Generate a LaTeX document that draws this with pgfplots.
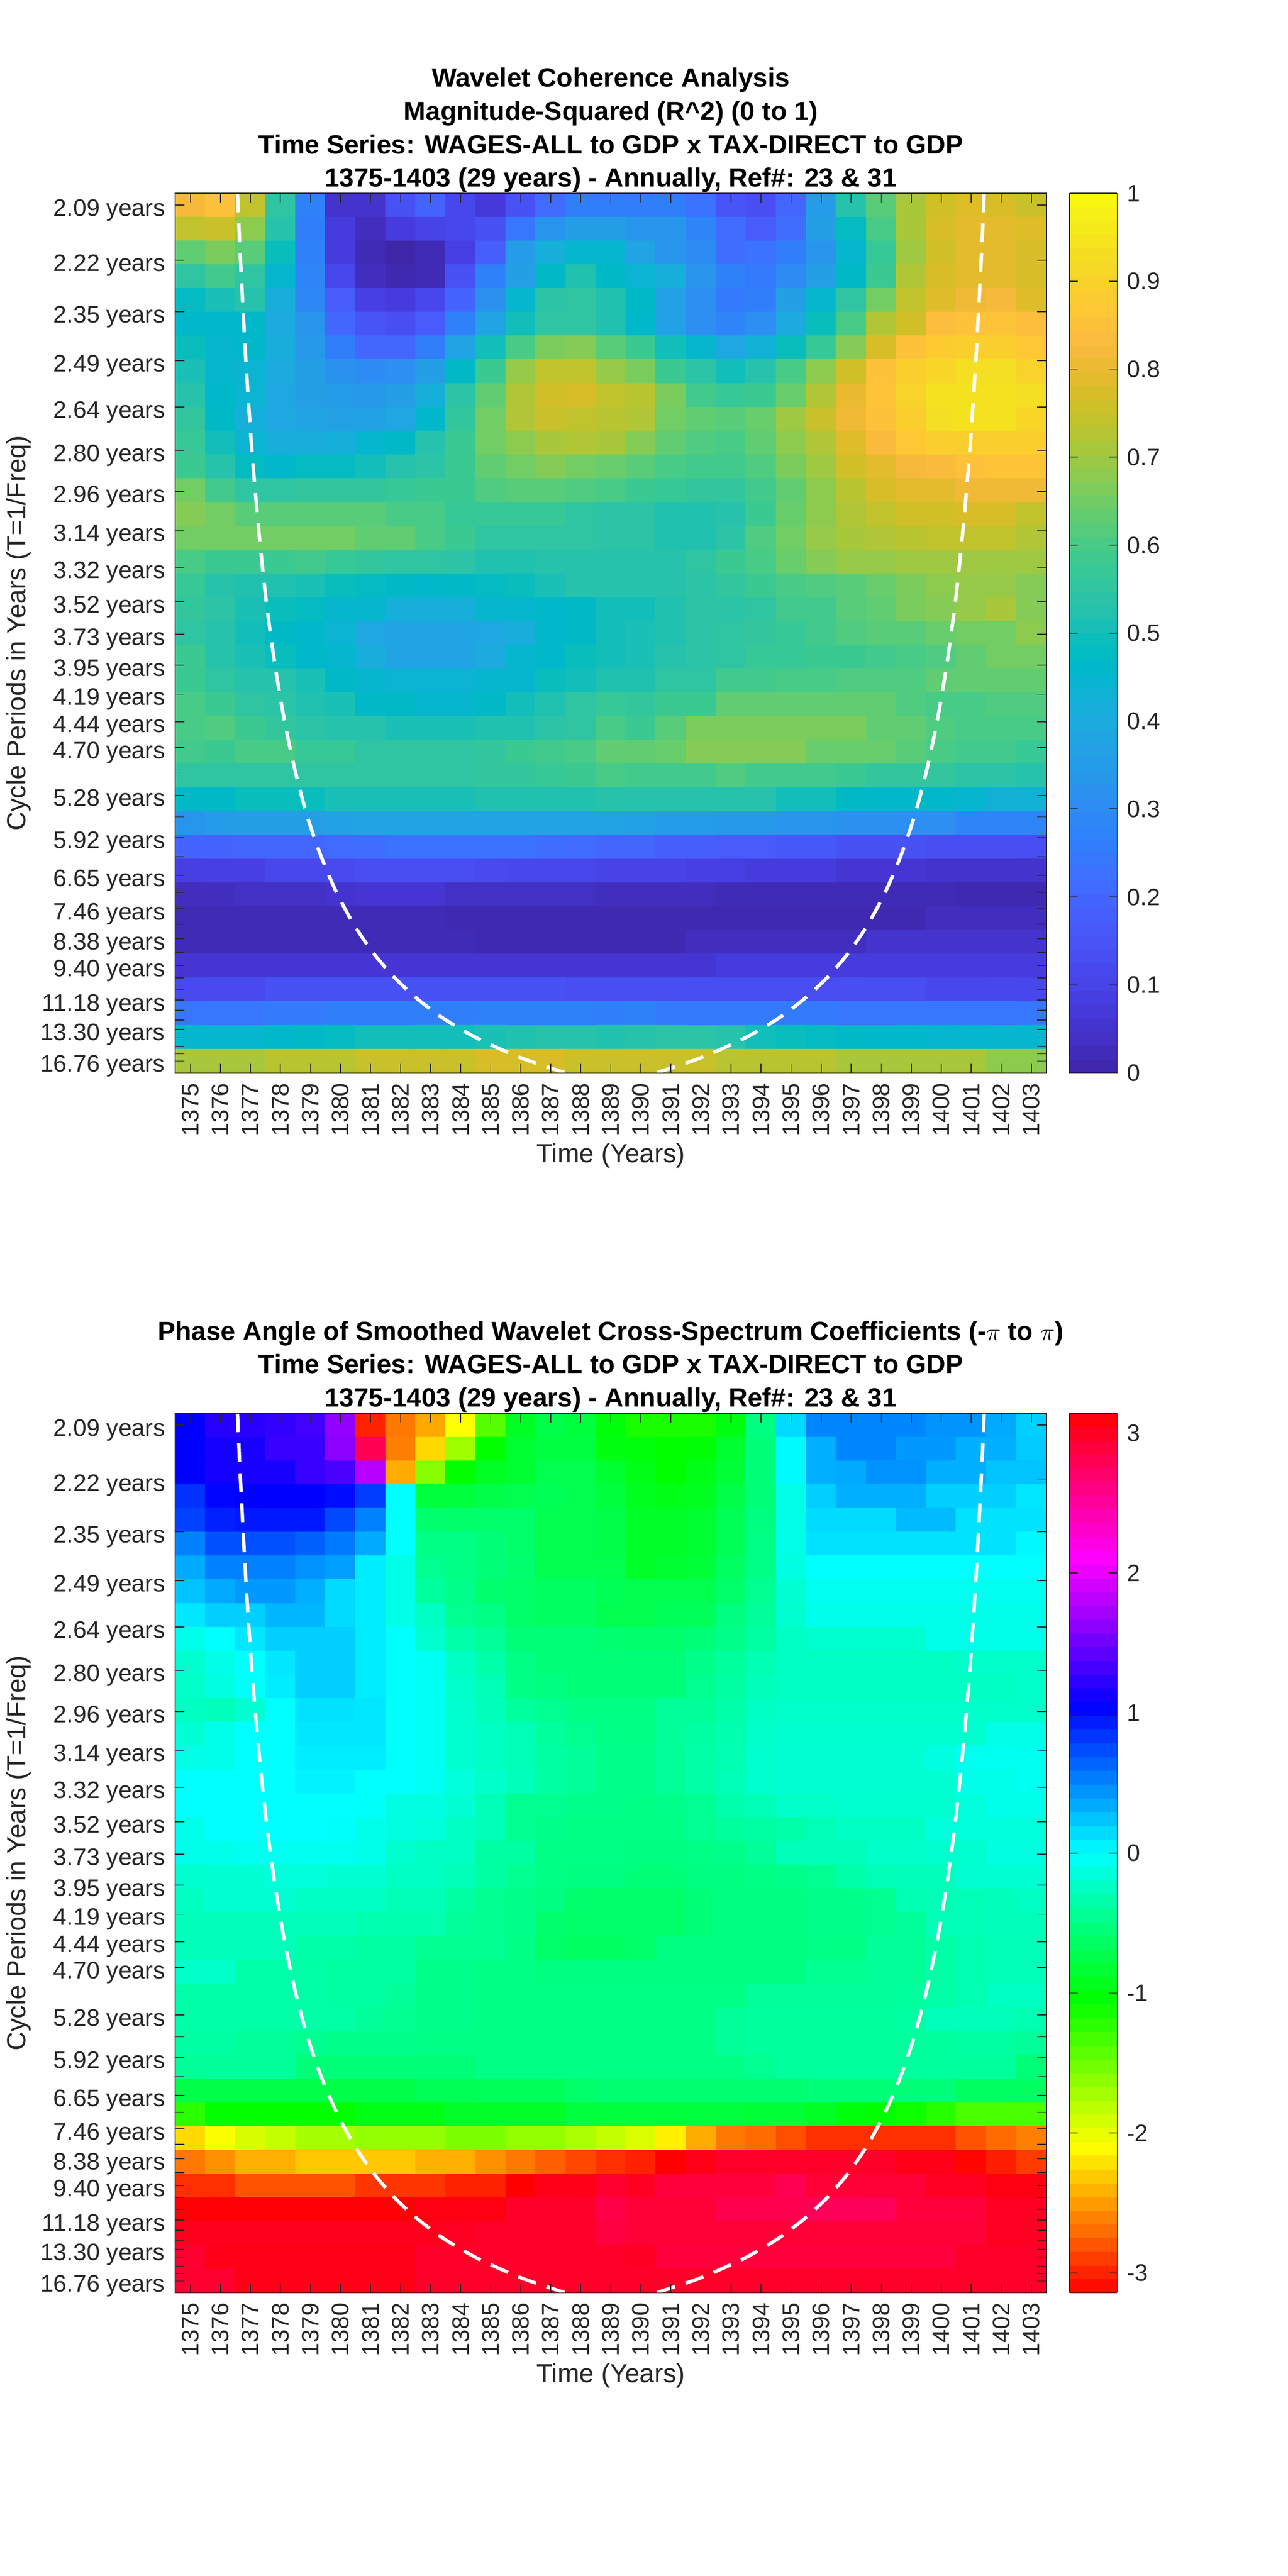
\documentclass[border=0pt]{standalone}
\usepackage{fontspec}
\setmainfont{Liberation Sans}
\usepackage{pgfplots}
\pgfplotsset{compat=1.18}
\definecolor{axc}{RGB}{38,38,38}
\newcommand{\tickfont}{\fontsize{13.9}{15}\selectfont}
\newcommand{\labfont}{\fontsize{15.3}{17}\selectfont}
\newcommand{\titfont}{\fontsize{15.36}{19.44}\selectfont\bfseries}
\pgfplotsset{
  wave/.style={
    scale only axis, width=507.4pt, height=512.4pt, anchor=south west,
    axis on top, enlargelimits=false,
    xmin=1374.5, xmax=1403.5, ymin=0.05387, ymax=0.48313,
    xtick={1375,1376,1377,1378,1379,1380,1381,1382,1383,1384,1385,1386,1387,1388,1389,1390,1391,1392,1393,1394,1395,1396,1397,1398,1399,1400,1401,1402,1403},
    xticklabels={1375,1376,1377,1378,1379,1380,1381,1382,1383,1384,1385,1386,1387,1388,1389,1390,1391,1392,1393,1394,1395,1396,1397,1398,1399,1400,1401,1402,1403},
    ytick={0.47733,0.45054,0.42526,0.40139,0.37886,0.35760,0.33753,0.31858,0.30070,0.28382,0.26789,0.25286,0.23866,0.22527,0.21263,0.20070,0.18943,0.17880,0.16876,0.15929,0.15035,0.14191,0.13395,0.12643,0.11933,0.11263,0.10631,0.10035,0.09472,0.08940,0.08438,0.07965,0.07518,0.07096,0.06697,0.06321,0.05967},
    yticklabels={2.09 years,2.22 years,2.35 years,2.49 years,2.64 years,2.80 years,2.96 years,3.14 years,3.32 years,3.52 years,3.73 years,3.95 years,4.19 years,4.44 years,4.70 years,,5.28 years,,5.92 years,,6.65 years,,7.46 years,,8.38 years,,9.40 years,,,11.18 years,,,13.30 years,,,,16.76 years},
    tick align=inside, major tick length=5.3pt, minor tick num=0,
    tick style={color=axc,line width=0.5pt},
    axis line style={color=axc,line width=0.5pt},
    tick label style={font=\tickfont,text=axc},
    xticklabel style={rotate=90,anchor=east,inner sep=0pt,xshift=-5.7pt},
    yticklabel style={anchor=east,inner sep=0pt,xshift=-5.8pt,yshift=-3pt},
    xlabel={Time (Years)}, ylabel={Cycle Periods in Years (T=1/Freq)},
    xlabel style={font=\labfont,text=axc,at={(axis description cs:0.5,-0.0942)},anchor=center},
    ylabel style={font=\labfont,text=axc,at={(axis description cs:-0.1795,0.5)},anchor=center},
    title style={font=\titfont,align=center,at={(axis description cs:0.5,1)},anchor=south,inner sep=0pt,yshift=-5.7pt},
    colorbar sampled,
  },
  cbar/.style={
    at={(1.0265,1)}, anchor=north west, width=27.8pt,
    samples=65, tick align=inside, major tick length=4.8pt,
    tick style={color=axc,line width=0.5pt},
    axis line style={color=axc,line width=0.5pt},
    yticklabel style={font=\tickfont,text=axc,anchor=west,inner sep=0pt,xshift=5.5pt},
    ylabel={}, xlabel={},
  },
  coi/.style={white,line width=2pt,dash pattern=on 11pt off 6.5pt,smooth,no marks},
}
\begin{document}
\begin{tikzpicture}
\useasboundingbox (0,0) rectangle (750pt,1500.48pt);
\begin{axis}[wave, at={(102.1pt,875.5pt)},
  title={Wavelet Coherence Analysis\\Magnitude-Squared (R\textasciicircum 2) (0 to 1)\\Time Series: WAGES-ALL to GDP x TAX-DIRECT to GDP\\1375-1403 (29 years) - Annually, Ref\#: 23 \& 31},
  colormap={parula}{rgb=(.2422,.1504,.6603) rgb=(.2504,.1650,.7076) rgb=(.2578,.1818,.7511) rgb=(.2647,.1978,.7952) rgb=(.2706,.2147,.8364) rgb=(.2751,.2342,.8710) rgb=(.2783,.2559,.8991) rgb=(.2803,.2782,.9221) rgb=(.2813,.3006,.9414) rgb=(.2810,.3228,.9579) rgb=(.2795,.3447,.9717) rgb=(.2760,.3667,.9829) rgb=(.2699,.3892,.9906) rgb=(.2602,.4123,.9952) rgb=(.2440,.4358,.9988) rgb=(.2206,.4603,.9973) rgb=(.1963,.4847,.9892) rgb=(.1834,.5074,.9798) rgb=(.1786,.5289,.9682) rgb=(.1764,.5499,.9520) rgb=(.1687,.5703,.9359) rgb=(.1540,.5902,.9218) rgb=(.1460,.6091,.9079) rgb=(.1380,.6276,.8973) rgb=(.1248,.6459,.8883) rgb=(.1113,.6635,.8763) rgb=(.0952,.6798,.8598) rgb=(.0689,.6948,.8394) rgb=(.0297,.7082,.8163) rgb=(.0036,.7203,.7917) rgb=(.0067,.7312,.7660) rgb=(.0433,.7411,.7394) rgb=(.0964,.7500,.7120) rgb=(.1408,.7584,.6842) rgb=(.1717,.7670,.6554) rgb=(.1938,.7758,.6251) rgb=(.2161,.7843,.5923) rgb=(.2470,.7918,.5567) rgb=(.2906,.7973,.5188) rgb=(.3406,.8008,.4789) rgb=(.3909,.8029,.4354) rgb=(.4456,.8024,.3909) rgb=(.5044,.7993,.3480) rgb=(.5616,.7942,.3045) rgb=(.6174,.7876,.2612) rgb=(.6720,.7793,.2227) rgb=(.7242,.7698,.1910) rgb=(.7738,.7598,.1646) rgb=(.8203,.7498,.1535) rgb=(.8634,.7406,.1596) rgb=(.9035,.7330,.1774) rgb=(.9393,.7288,.2100) rgb=(.9728,.7298,.2394) rgb=(.9956,.7434,.2371) rgb=(.9970,.7659,.2199) rgb=(.9952,.7861,.1991) rgb=(.9799,.8112,.1774) rgb=(.9691,.8328,.1633) rgb=(.9628,.8579,.1450) rgb=(.9593,.8830,.1261) rgb=(.9599,.9058,.1119) rgb=(.9641,.9286,.0950) rgb=(.9695,.9555,.0750) rgb=(.9763,.9831,.0538)},
  point meta min=0, point meta max=1,
  colorbar style={cbar, ymin=0, ymax=1, ytick={0,0.1,0.2,0.3,0.4,0.5,0.6,0.7,0.8,0.9,1}, yticklabels={0,0.1,0.2,0.3,0.4,0.5,0.6,0.7,0.8,0.9,1}},
]
\addplot[matrix plot*, mesh/cols=29, point meta=explicit]
  table[row sep=\\, header=false, x expr={1375+mod(\coordindex,29)}, y expr={0.47733-0.011602*floor((\coordindex+0.5)/29)}, meta index=0] {
.82\\.85\\.74\\.55\\.27\\.05\\.05\\.14\\.19\\.11\\.07\\.14\\.21\\.26\\.26\\.26\\.26\\.23\\.15\\.13\\.20\\.35\\.53\\.62\\.71\\.76\\.78\\.77\\.75\\
.74\\.75\\.68\\.53\\.26\\.08\\.03\\.08\\.10\\.11\\.14\\.24\\.33\\.36\\.36\\.33\\.33\\.28\\.21\\.17\\.22\\.36\\.48\\.60\\.71\\.77\\.79\\.79\\.78\\
.63\\.66\\.62\\.49\\.27\\.08\\.02\\.00\\.02\\.09\\.18\\.35\\.42\\.45\\.45\\.38\\.33\\.30\\.22\\.23\\.26\\.33\\.45\\.57\\.70\\.76\\.79\\.79\\.77\\
.55\\.59\\.55\\.45\\.28\\.11\\.03\\.01\\.02\\.14\\.27\\.36\\.47\\.52\\.47\\.44\\.42\\.33\\.27\\.25\\.30\\.36\\.47\\.58\\.72\\.77\\.79\\.79\\.77\\
.48\\.51\\.53\\.41\\.29\\.17\\.09\\.08\\.11\\.19\\.32\\.45\\.54\\.55\\.52\\.47\\.37\\.31\\.25\\.26\\.36\\.45\\.55\\.65\\.74\\.78\\.81\\.82\\.78\\
.46\\.46\\.46\\.40\\.33\\.20\\.15\\.13\\.17\\.27\\.38\\.50\\.55\\.55\\.52\\.46\\.37\\.31\\.28\\.31\\.40\\.49\\.60\\.72\\.76\\.84\\.85\\.86\\.84\\
.49\\.45\\.46\\.41\\.34\\.26\\.20\\.20\\.26\\.38\\.50\\.60\\.66\\.67\\.62\\.58\\.50\\.45\\.39\\.43\\.49\\.57\\.67\\.77\\.85\\.88\\.89\\.89\\.87\\
.51\\.45\\.44\\.40\\.36\\.32\\.30\\.31\\.36\\.47\\.58\\.69\\.74\\.74\\.69\\.66\\.58\\.54\\.50\\.53\\.60\\.68\\.76\\.85\\.89\\.91\\.93\\.93\\.90\\
.53\\.46\\.44\\.39\\.36\\.35\\.34\\.36\\.42\\.54\\.63\\.72\\.76\\.77\\.74\\.73\\.66\\.59\\.57\\.58\\.64\\.72\\.80\\.86\\.90\\.94\\.94\\.94\\.93\\
.56\\.47\\.42\\.39\\.38\\.37\\.37\\.39\\.46\\.56\\.65\\.72\\.75\\.74\\.73\\.72\\.65\\.63\\.62\\.64\\.70\\.75\\.81\\.85\\.89\\.93\\.94\\.94\\.91\\
.57\\.50\\.44\\.41\\.41\\.42\\.45\\.47\\.53\\.58\\.65\\.68\\.71\\.72\\.71\\.67\\.63\\.61\\.60\\.63\\.68\\.72\\.78\\.83\\.87\\.89\\.89\\.89\\.89\\
.58\\.53\\.48\\.46\\.48\\.48\\.50\\.53\\.54\\.58\\.63\\.65\\.67\\.65\\.64\\.62\\.60\\.59\\.59\\.61\\.66\\.70\\.76\\.79\\.82\\.83\\.85\\.86\\.86\\
.65\\.59\\.55\\.55\\.56\\.56\\.56\\.57\\.58\\.58\\.61\\.62\\.62\\.61\\.60\\.58\\.57\\.56\\.56\\.59\\.63\\.68\\.73\\.77\\.79\\.79\\.81\\.81\\.81\\
.67\\.65\\.62\\.62\\.62\\.62\\.62\\.60\\.60\\.57\\.57\\.57\\.57\\.55\\.54\\.54\\.52\\.52\\.53\\.58\\.64\\.68\\.72\\.74\\.76\\.76\\.77\\.77\\.74\\
.65\\.65\\.65\\.65\\.65\\.65\\.63\\.63\\.60\\.58\\.55\\.55\\.55\\.55\\.54\\.54\\.52\\.52\\.54\\.61\\.65\\.69\\.71\\.72\\.73\\.74\\.74\\.74\\.72\\
.60\\.58\\.58\\.58\\.59\\.57\\.56\\.55\\.55\\.54\\.52\\.52\\.53\\.53\\.53\\.53\\.53\\.55\\.58\\.60\\.64\\.67\\.69\\.69\\.70\\.70\\.70\\.70\\.70\\
.57\\.53\\.52\\.52\\.51\\.49\\.48\\.47\\.46\\.47\\.48\\.49\\.51\\.53\\.53\\.53\\.53\\.54\\.56\\.58\\.60\\.61\\.62\\.64\\.66\\.68\\.69\\.69\\.67\\
.56\\.54\\.51\\.49\\.48\\.45\\.45\\.42\\.42\\.42\\.45\\.45\\.46\\.47\\.50\\.50\\.52\\.54\\.54\\.55\\.59\\.59\\.62\\.63\\.66\\.67\\.69\\.71\\.67\\
.55\\.53\\.50\\.47\\.46\\.44\\.39\\.38\\.38\\.38\\.39\\.41\\.46\\.47\\.50\\.51\\.52\\.54\\.55\\.56\\.57\\.59\\.61\\.62\\.62\\.64\\.65\\.65\\.68\\
.58\\.53\\.51\\.49\\.46\\.45\\.41\\.38\\.38\\.38\\.40\\.45\\.46\\.49\\.50\\.51\\.53\\.54\\.55\\.57\\.57\\.58\\.58\\.59\\.60\\.61\\.63\\.65\\.65\\
.58\\.55\\.53\\.53\\.51\\.47\\.45\\.44\\.44\\.44\\.45\\.45\\.49\\.50\\.52\\.52\\.55\\.55\\.59\\.59\\.60\\.60\\.61\\.61\\.61\\.63\\.63\\.63\\.63\\
.60\\.58\\.55\\.54\\.52\\.51\\.47\\.47\\.45\\.45\\.47\\.50\\.52\\.55\\.57\\.56\\.58\\.58\\.63\\.63\\.63\\.63\\.63\\.63\\.61\\.60\\.60\\.61\\.61\\
.60\\.61\\.58\\.56\\.54\\.53\\.53\\.51\\.51\\.51\\.52\\.52\\.54\\.55\\.60\\.58\\.62\\.66\\.66\\.66\\.66\\.66\\.66\\.63\\.63\\.61\\.60\\.60\\.60\\
.59\\.58\\.60\\.60\\.57\\.57\\.55\\.55\\.55\\.55\\.56\\.58\\.59\\.60\\.63\\.63\\.64\\.67\\.67\\.67\\.67\\.64\\.64\\.64\\.62\\.60\\.59\\.59\\.57\\
.55\\.55\\.55\\.55\\.55\\.55\\.55\\.55\\.55\\.55\\.56\\.56\\.57\\.58\\.60\\.59\\.59\\.59\\.61\\.59\\.59\\.59\\.58\\.56\\.56\\.56\\.54\\.54\\.53\\
.47\\.47\\.49\\.49\\.49\\.51\\.51\\.51\\.51\\.51\\.52\\.52\\.52\\.52\\.53\\.53\\.53\\.53\\.53\\.53\\.50\\.50\\.47\\.46\\.46\\.46\\.45\\.43\\.43\\
.33\\.35\\.36\\.36\\.36\\.37\\.38\\.38\\.38\\.38\\.38\\.38\\.38\\.38\\.38\\.37\\.35\\.35\\.34\\.34\\.33\\.33\\.32\\.32\\.31\\.31\\.28\\.28\\.28\\
.19\\.19\\.20\\.20\\.20\\.21\\.22\\.23\\.23\\.23\\.23\\.23\\.22\\.21\\.20\\.20\\.18\\.18\\.17\\.17\\.16\\.16\\.14\\.14\\.14\\.13\\.13\\.13\\.13\\
.09\\.09\\.09\\.11\\.11\\.12\\.13\\.13\\.13\\.13\\.12\\.11\\.11\\.11\\.10\\.10\\.10\\.09\\.09\\.08\\.08\\.08\\.06\\.06\\.06\\.05\\.05\\.05\\.05\\
.03\\.03\\.04\\.04\\.04\\.05\\.06\\.06\\.06\\.04\\.04\\.04\\.04\\.04\\.03\\.03\\.03\\.03\\.02\\.02\\.02\\.02\\.02\\.02\\.02\\.02\\.01\\.01\\.01\\
.02\\.02\\.02\\.02\\.02\\.02\\.02\\.02\\.02\\.01\\.01\\.01\\.01\\.01\\.01\\.01\\.01\\.01\\.01\\.01\\.01\\.01\\.01\\.01\\.01\\.03\\.03\\.03\\.03\\
.02\\.02\\.02\\.02\\.02\\.02\\.02\\.02\\.02\\.02\\.01\\.01\\.01\\.01\\.01\\.01\\.01\\.03\\.03\\.03\\.03\\.03\\.03\\.05\\.05\\.05\\.05\\.05\\.05\\
.06\\.06\\.06\\.06\\.06\\.06\\.06\\.06\\.06\\.06\\.06\\.06\\.06\\.06\\.06\\.06\\.06\\.06\\.08\\.08\\.08\\.08\\.08\\.08\\.08\\.08\\.08\\.08\\.08\\
.12\\.12\\.12\\.14\\.14\\.14\\.14\\.14\\.14\\.14\\.14\\.14\\.14\\.13\\.13\\.13\\.13\\.13\\.13\\.13\\.13\\.13\\.13\\.13\\.13\\.11\\.11\\.11\\.11\\
.24\\.24\\.24\\.25\\.25\\.26\\.26\\.26\\.26\\.26\\.27\\.27\\.27\\.27\\.26\\.27\\.25\\.25\\.25\\.25\\.25\\.25\\.24\\.24\\.24\\.24\\.24\\.24\\.24\\
.45\\.45\\.45\\.46\\.47\\.48\\.50\\.50\\.50\\.50\\.51\\.52\\.53\\.53\\.52\\.53\\.54\\.54\\.53\\.50\\.49\\.48\\.47\\.46\\.46\\.45\\.45\\.45\\.45\\
.71\\.71\\.71\\.73\\.73\\.73\\.75\\.75\\.75\\.75\\.77\\.77\\.77\\.75\\.75\\.75\\.75\\.75\\.73\\.73\\.73\\.73\\.71\\.71\\.71\\.71\\.71\\.68\\.68\\
};
\addplot[coi] coordinates {(1376.57,0.4831)(1376.67,0.45054)(1376.85,0.40139)(1377.05,0.35760)(1377.28,0.31858)(1377.53,0.28382)(1377.82,0.25286)(1378.14,0.22527)(1378.50,0.20070)(1378.90,0.17880)(1379.36,0.15929)(1379.87,0.14191)(1380.44,0.12643)(1381.08,0.11263)(1381.80,0.10035)(1382.61,0.08940)(1383.51,0.07965)(1384.53,0.07096)(1385.68,0.06321)(1386.30,0.05967)(1387.49,0.05387)};
\addplot[coi] coordinates {(1401.43,0.4831)(1401.33,0.45054)(1401.15,0.40139)(1400.95,0.35760)(1400.72,0.31858)(1400.47,0.28382)(1400.18,0.25286)(1399.86,0.22527)(1399.50,0.20070)(1399.10,0.17880)(1398.64,0.15929)(1398.13,0.14191)(1397.56,0.12643)(1396.92,0.11263)(1396.20,0.10035)(1395.39,0.08940)(1394.49,0.07965)(1393.47,0.07096)(1392.32,0.06321)(1391.70,0.05967)(1390.51,0.05387)};
\end{axis}
\begin{axis}[wave, at={(102.1pt,164.9pt)},
  title={Phase Angle of Smoothed Wavelet Cross-Spectrum Coefficients (-$\pi$ to $\pi$)\\Time Series: WAGES-ALL to GDP x TAX-DIRECT to GDP\\1375-1403 (29 years) - Annually, Ref\#: 23 \& 31},
  colormap={hsvm}{rgb=(1,0,0) rgb=(1,1,0) rgb=(0,1,0) rgb=(0,1,1) rgb=(0,0,1) rgb=(1,0,1) rgb=(1,0,0)},
  point meta min=-3.14159, point meta max=3.14159,
  colorbar style={cbar, ymin=-3.14159, ymax=3.14159, ytick={-3,-2,-1,0,1,2,3}, yticklabels={-3,-2,-1,0,1,2,3}},
]
\addplot[matrix plot*, mesh/cols=29, point meta=explicit]
  table[row sep=\\, header=false, x expr={1375+mod(\coordindex,29)}, y expr={0.47733-0.011602*floor((\coordindex+0.5)/29)}, meta index=0] {
1.05\\1.2\\1.22\\1.25\\1.32\\1.65\\-3.0\\-2.65\\-2.45\\-2.09\\-1.4\\-.9\\-.75\\-.8\\-1.0\\-1.15\\-1.15\\-1.15\\-.98\\-.52\\.15\\.5\\.5\\.5\\.5\\.44\\.44\\.35\\.2\\
1.05\\1.13\\1.15\\1.28\\1.28\\1.62\\2.8\\-2.62\\-2.25\\-1.7\\-1.05\\-.85\\-.78\\-.78\\-.98\\-1.0\\-1.05\\-1.02\\-.85\\-.55\\.02\\.33\\.5\\.5\\.42\\.42\\.33\\.33\\.22\\
1.05\\1.13\\1.15\\1.15\\1.28\\1.35\\1.8\\-2.44\\-1.6\\-1.05\\-.9\\-.85\\-.72\\-.72\\-.85\\-.95\\-1.05\\-.95\\-.82\\-.55\\.02\\.33\\.35\\.45\\.45\\.33\\.33\\.25\\.25\\
.85\\1.03\\1.05\\1.05\\1.05\\1.0\\.8\\0\\-.8\\-.8\\-.75\\-.72\\-.7\\-.72\\-.8\\-.92\\-.95\\-.92\\-.75\\-.55\\-.1\\.2\\.33\\.33\\.33\\.2\\.2\\.2\\.1\\
.78\\.92\\.95\\.95\\.95\\.75\\.52\\0\\-.6\\-.62\\-.62\\-.62\\-.72\\-.72\\-.75\\-.88\\-.88\\-.85\\-.7\\-.52\\-.1\\.15\\.15\\.15\\.28\\.28\\.12\\.12\\.12\\
.52\\.72\\.72\\.72\\.65\\.55\\.35\\0\\-.5\\-.5\\-.55\\-.62\\-.72\\-.72\\-.75\\-.88\\-.88\\-.85\\-.7\\-.5\\-.1\\.12\\.12\\.12\\.12\\.12\\.12\\.12\\.03\\
.35\\.52\\.52\\.52\\.45\\.4\\.08\\-.1\\-.45\\-.5\\-.55\\-.6\\-.72\\-.72\\-.72\\-.88\\-.85\\-.82\\-.65\\-.5\\-.12\\0\\0\\0\\0\\0\\0\\0\\0\\
.25\\.35\\.42\\.42\\.33\\.15\\.08\\-.1\\-.4\\-.48\\-.6\\-.62\\-.65\\-.65\\-.7\\-.72\\-.72\\-.72\\-.62\\-.45\\-.18\\-.06\\-.06\\-.06\\-.06\\-.06\\-.06\\-.06\\-.06\\
.1\\.2\\.2\\.3\\.3\\.15\\.08\\-.1\\-.25\\-.45\\-.5\\-.62\\-.65\\-.65\\-.72\\-.72\\-.68\\-.68\\-.52\\-.42\\-.2\\-.08\\-.08\\-.08\\-.08\\-.08\\-.08\\-.08\\-.08\\
-.08\\0\\.1\\.2\\.2\\.2\\.08\\0\\-.2\\-.35\\-.42\\-.55\\-.55\\-.55\\-.58\\-.6\\-.6\\-.55\\-.48\\-.38\\-.25\\-.2\\-.2\\-.2\\-.2\\-.08\\-.08\\-.08\\-.08\\
-.2\\-.1\\0\\.1\\.2\\.2\\.08\\0\\-.05\\-.25\\-.35\\-.5\\-.55\\-.55\\-.55\\-.55\\-.55\\-.48\\-.4\\-.32\\-.25\\-.25\\-.25\\-.25\\-.25\\-.25\\-.22\\-.22\\-.22\\
-.22\\-.12\\-.02\\.08\\.2\\.2\\.08\\0\\-.05\\-.22\\-.3\\-.5\\-.52\\-.55\\-.55\\-.55\\-.55\\-.45\\-.38\\-.28\\-.25\\-.25\\-.25\\-.25\\-.25\\-.25\\-.25\\-.25\\-.22\\
-.25\\-.28\\-.18\\0\\.12\\.12\\.1\\0\\-.05\\-.2\\-.28\\-.4\\-.45\\-.5\\-.5\\-.5\\-.42\\-.42\\-.35\\-.25\\-.22\\-.22\\-.22\\-.22\\-.22\\-.22\\-.22\\-.22\\-.22\\
-.18\\-.08\\0\\0\\.1\\.1\\.1\\0\\-.05\\-.2\\-.25\\-.3\\-.4\\-.45\\-.5\\-.5\\-.42\\-.38\\-.33\\-.22\\-.2\\-.2\\-.2\\-.2\\-.2\\-.2\\-.2\\-.1\\-.1\\
-.1\\-.08\\0\\0\\.08\\.08\\.08\\0\\-.05\\-.2\\-.25\\-.3\\-.38\\-.42\\-.48\\-.48\\-.42\\-.36\\-.32\\-.2\\-.18\\-.18\\-.18\\-.18\\-.18\\-.12\\-.06\\-.06\\-.06\\
0\\0\\0\\0\\.05\\.05\\0\\0\\-.05\\-.15\\-.22\\-.28\\-.38\\-.42\\-.48\\-.48\\-.42\\-.36\\-.3\\-.2\\-.18\\-.18\\-.18\\-.18\\-.18\\-.18\\-.08\\-.08\\-.06\\
0\\0\\0\\0\\0\\0\\-.02\\-.12\\-.12\\-.18\\-.3\\-.45\\-.45\\-.48\\-.48\\-.5\\-.48\\-.44\\-.34\\-.3\\-.22\\-.22\\-.2\\-.2\\-.2\\-.2\\-.15\\-.08\\-.08\\
-.08\\0\\0\\0\\0\\-.02\\-.08\\-.12\\-.15\\-.25\\-.3\\-.45\\-.48\\-.5\\-.5\\-.5\\-.5\\-.44\\-.4\\-.38\\-.35\\-.3\\-.25\\-.25\\-.25\\-.15\\-.15\\-.15\\-.15\\
-.08\\-.08\\-.06\\-.06\\-.06\\-.06\\-.08\\-.2\\-.25\\-.25\\-.38\\-.38\\-.5\\-.5\\-.5\\-.52\\-.52\\-.5\\-.48\\-.42\\-.28\\-.28\\-.28\\-.22\\-.22\\-.2\\-.2\\-.12\\-.12\\
-.2\\-.18\\-.18\\-.15\\-.15\\-.18\\-.18\\-.25\\-.25\\-.3\\-.38\\-.45\\-.5\\-.52\\-.52\\-.55\\-.55\\-.52\\-.52\\-.5\\-.48\\-.45\\-.35\\-.3\\-.28\\-.28\\-.18\\-.18\\-.18\\
-.25\\-.18\\-.18\\-.18\\-.25\\-.25\\-.25\\-.3\\-.3\\-.38\\-.45\\-.48\\-.52\\-.6\\-.62\\-.62\\-.62\\-.55\\-.52\\-.52\\-.52\\-.48\\-.48\\-.45\\-.32\\-.3\\-.3\\-.28\\-.25\\
-.28\\-.28\\-.28\\-.28\\-.28\\-.28\\-.33\\-.33\\-.33\\-.42\\-.45\\-.48\\-.6\\-.62\\-.62\\-.62\\-.62\\-.55\\-.52\\-.52\\-.52\\-.48\\-.48\\-.45\\-.42\\-.3\\-.3\\-.28\\-.28\\
-.28\\-.28\\-.28\\-.28\\-.35\\-.35\\-.38\\-.38\\-.45\\-.45\\-.45\\-.5\\-.62\\-.65\\-.65\\-.62\\-.52\\-.52\\-.52\\-.52\\-.52\\-.5\\-.5\\-.42\\-.42\\-.36\\-.32\\-.3\\-.3\\
-.22\\-.22\\-.35\\-.35\\-.36\\-.38\\-.38\\-.38\\-.48\\-.48\\-.5\\-.5\\-.52\\-.52\\-.52\\-.52\\-.52\\-.52\\-.52\\-.52\\-.52\\-.45\\-.45\\-.42\\-.42\\-.36\\-.32\\-.3\\-.3\\
-.35\\-.35\\-.35\\-.35\\-.36\\-.38\\-.38\\-.42\\-.48\\-.48\\-.5\\-.5\\-.5\\-.5\\-.5\\-.5\\-.5\\-.5\\-.5\\-.42\\-.42\\-.42\\-.42\\-.42\\-.4\\-.36\\-.32\\-.25\\-.25\\
-.35\\-.35\\-.35\\-.35\\-.36\\-.36\\-.42\\-.45\\-.48\\-.48\\-.5\\-.5\\-.5\\-.5\\-.5\\-.5\\-.5\\-.5\\-.42\\-.4\\-.4\\-.4\\-.4\\-.4\\-.38\\-.28\\-.28\\-.28\\-.32\\
-.38\\-.38\\-.42\\-.42\\-.45\\-.48\\-.48\\-.48\\-.5\\-.5\\-.5\\-.5\\-.5\\-.5\\-.5\\-.5\\-.5\\-.5\\-.42\\-.4\\-.4\\-.4\\-.4\\-.4\\-.4\\-.4\\-.38\\-.38\\-.42\\
-.42\\-.42\\-.42\\-.42\\-.55\\-.55\\-.55\\-.55\\-.55\\-.55\\-.5\\-.5\\-.5\\-.5\\-.5\\-.5\\-.5\\-.5\\-.5\\-.45\\-.4\\-.4\\-.4\\-.4\\-.4\\-.4\\-.4\\-.4\\-.55\\
-.75\\-.75\\-.75\\-.75\\-.75\\-.75\\-.75\\-.75\\-.7\\-.7\\-.68\\-.68\\-.68\\-.62\\-.58\\-.58\\-.58\\-.58\\-.58\\-.58\\-.58\\-.55\\-.55\\-.55\\-.55\\-.55\\-.65\\-.65\\-.65\\
-1.22\\-1.05\\-1.05\\-1.05\\-1.05\\-1.05\\-.95\\-.95\\-.95\\-.88\\-.88\\-.88\\-.88\\-.8\\-.8\\-.8\\-.8\\-.8\\-.8\\-.82\\-.82\\-.9\\-1.0\\-1.05\\-1.1\\-1.2\\-1.35\\-1.35\\-1.35\\
-2.25\\-2.08\\-1.93\\-1.85\\-1.72\\-1.72\\-1.65\\-1.65\\-1.65\\-1.55\\-1.55\\-1.65\\-1.65\\-1.75\\-1.85\\-1.95\\-2.15\\-2.44\\-2.65\\-2.7\\-2.82\\-2.95\\-2.95\\-2.95\\-2.95\\-2.95\\-2.8\\-2.7\\-2.62\\
-2.65\\-2.55\\-2.42\\-2.42\\-2.32\\-2.32\\-2.32\\-2.32\\-2.42\\-2.42\\-2.55\\-2.65\\-2.75\\-2.85\\-2.95\\-3.0\\-3.14\\3.05\\2.98\\2.98\\2.98\\2.98\\2.98\\2.98\\3.05\\3.05\\-3.12\\-3.02\\-2.9\\
-2.95\\-2.95\\-2.8\\-2.8\\-2.8\\-2.8\\-2.92\\-2.92\\-2.92\\-3.0\\-3.0\\-3.14\\3.05\\3.05\\2.95\\3.0\\2.9\\2.9\\2.9\\2.9\\2.8\\2.92\\2.92\\2.92\\2.92\\3.0\\3.0\\3.08\\3.08\\
3.13\\3.13\\3.13\\3.13\\3.13\\3.13\\3.13\\3.13\\3.07\\3.07\\3.07\\2.98\\2.98\\2.98\\2.85\\2.92\\2.92\\2.92\\2.82\\2.82\\2.82\\2.78\\2.78\\2.78\\2.9\\2.9\\2.9\\3.0\\3.0\\
3.03\\3.03\\3.03\\3.03\\3.03\\3.03\\3.03\\3.03\\3.03\\3.0\\2.98\\2.98\\2.98\\2.98\\2.88\\2.92\\2.92\\2.92\\2.92\\2.92\\2.92\\2.92\\2.92\\2.92\\2.92\\2.92\\2.92\\3.0\\3.0\\
2.95\\3.05\\3.05\\3.05\\3.05\\3.05\\3.05\\3.05\\2.98\\2.98\\2.98\\2.98\\2.98\\2.98\\2.98\\3.0\\2.9\\2.9\\2.9\\2.9\\2.9\\2.9\\2.9\\2.9\\2.9\\2.9\\2.98\\2.98\\2.98\\
2.95\\2.95\\3.05\\3.05\\3.05\\3.05\\3.05\\3.05\\2.98\\2.98\\2.98\\2.98\\2.98\\2.98\\2.98\\2.98\\2.98\\2.98\\2.98\\2.98\\2.98\\2.98\\2.98\\2.98\\2.98\\2.98\\2.98\\2.98\\2.98\\
};
\addplot[coi] coordinates {(1376.57,0.4831)(1376.67,0.45054)(1376.85,0.40139)(1377.05,0.35760)(1377.28,0.31858)(1377.53,0.28382)(1377.82,0.25286)(1378.14,0.22527)(1378.50,0.20070)(1378.90,0.17880)(1379.36,0.15929)(1379.87,0.14191)(1380.44,0.12643)(1381.08,0.11263)(1381.80,0.10035)(1382.61,0.08940)(1383.51,0.07965)(1384.53,0.07096)(1385.68,0.06321)(1386.30,0.05967)(1387.49,0.05387)};
\addplot[coi] coordinates {(1401.43,0.4831)(1401.33,0.45054)(1401.15,0.40139)(1400.95,0.35760)(1400.72,0.31858)(1400.47,0.28382)(1400.18,0.25286)(1399.86,0.22527)(1399.50,0.20070)(1399.10,0.17880)(1398.64,0.15929)(1398.13,0.14191)(1397.56,0.12643)(1396.92,0.11263)(1396.20,0.10035)(1395.39,0.08940)(1394.49,0.07965)(1393.47,0.07096)(1392.32,0.06321)(1391.70,0.05967)(1390.51,0.05387)};
\end{axis}
\end{tikzpicture}
\end{document}
